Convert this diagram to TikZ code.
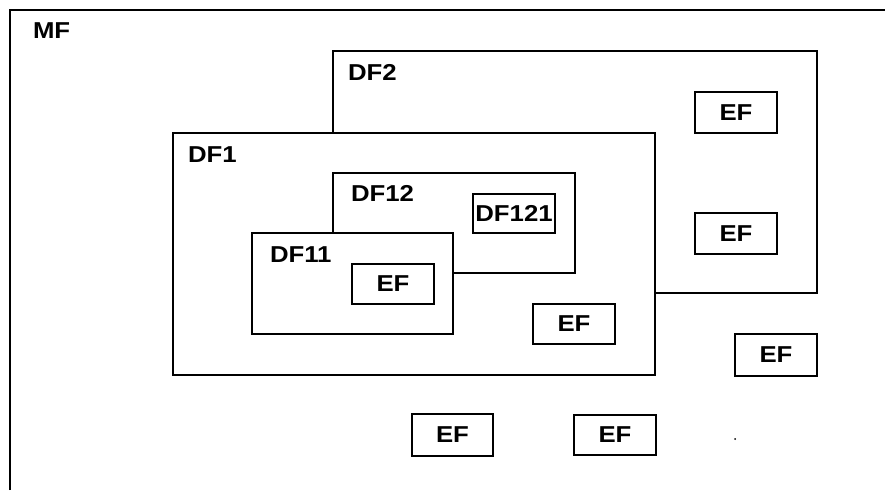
\documentclass[tikz,border=0pt]{standalone}
\usepackage{fontspec}
\setmainfont[FakeStretch=1.12]{Liberation Sans}
\begin{document}
\begin{tikzpicture}[x=1pt,y=-1pt,line width=2pt,
  frame/.style={draw,fill=white,rectangle,inner sep=0pt,anchor=north west},
  lbl/.style={anchor=base west,inner sep=0pt,font=\fontsize{23}{23}\selectfont\bfseries},
  efbox/.style={draw,fill=white,rectangle,inner sep=0pt,anchor=north west,
    minimum width=82pt,minimum height=41pt,font=\fontsize{23}{23}\selectfont\bfseries}]
\useasboundingbox (0,0) rectangle (885,490);
% MF frame
\coordinate (mfbl) at (10,490);
\coordinate (mftl) at (10,10);
\coordinate (mftr) at (885,10);
\draw (mfbl) -- (mftl) -- (mftr);
\node[lbl] (mf) at (32,38) {MF};
% DF2
\node[frame,minimum width=484pt,minimum height=242pt] (df2) at (332,50) {};
\node[lbl] (df2l) at (347,80) {DF2};
\node[efbox] (ef1) at (694,91) {EF};
\node[efbox] (ef2) at (694,212) {EF};
% DF1
\node[frame,minimum width=482pt,minimum height=242pt] (df1) at (172,132) {};
\node[lbl] (df1l) at (187,162) {DF1};
% DF12
\node[frame,minimum width=242pt,minimum height=100pt] (df12) at (332,172) {};
\node[lbl] (df12l) at (350,201) {DF12};
\node[efbox,minimum width=82pt,minimum height=39pt] (df121) at (472,193) {DF121};
% DF11
\node[frame,minimum width=201pt,minimum height=101pt] (df11) at (251,232) {};
\node[lbl] (df11l) at (269,262) {DF11};
\node[efbox,minimum height=40pt] (ef3) at (351,263) {EF};
% other EF
\node[efbox,minimum height=40pt] (ef4) at (532,303) {EF};
\node[efbox,minimum height=42pt] (ef5) at (734,333) {EF};
\node[efbox,minimum width=81pt,minimum height=42pt] (ef6) at (411,413) {EF};
\node[efbox,minimum height=40pt] (ef7) at (573,414) {EF};
% speck
\fill (735,439) circle (1pt);
\end{tikzpicture}
\end{document}
